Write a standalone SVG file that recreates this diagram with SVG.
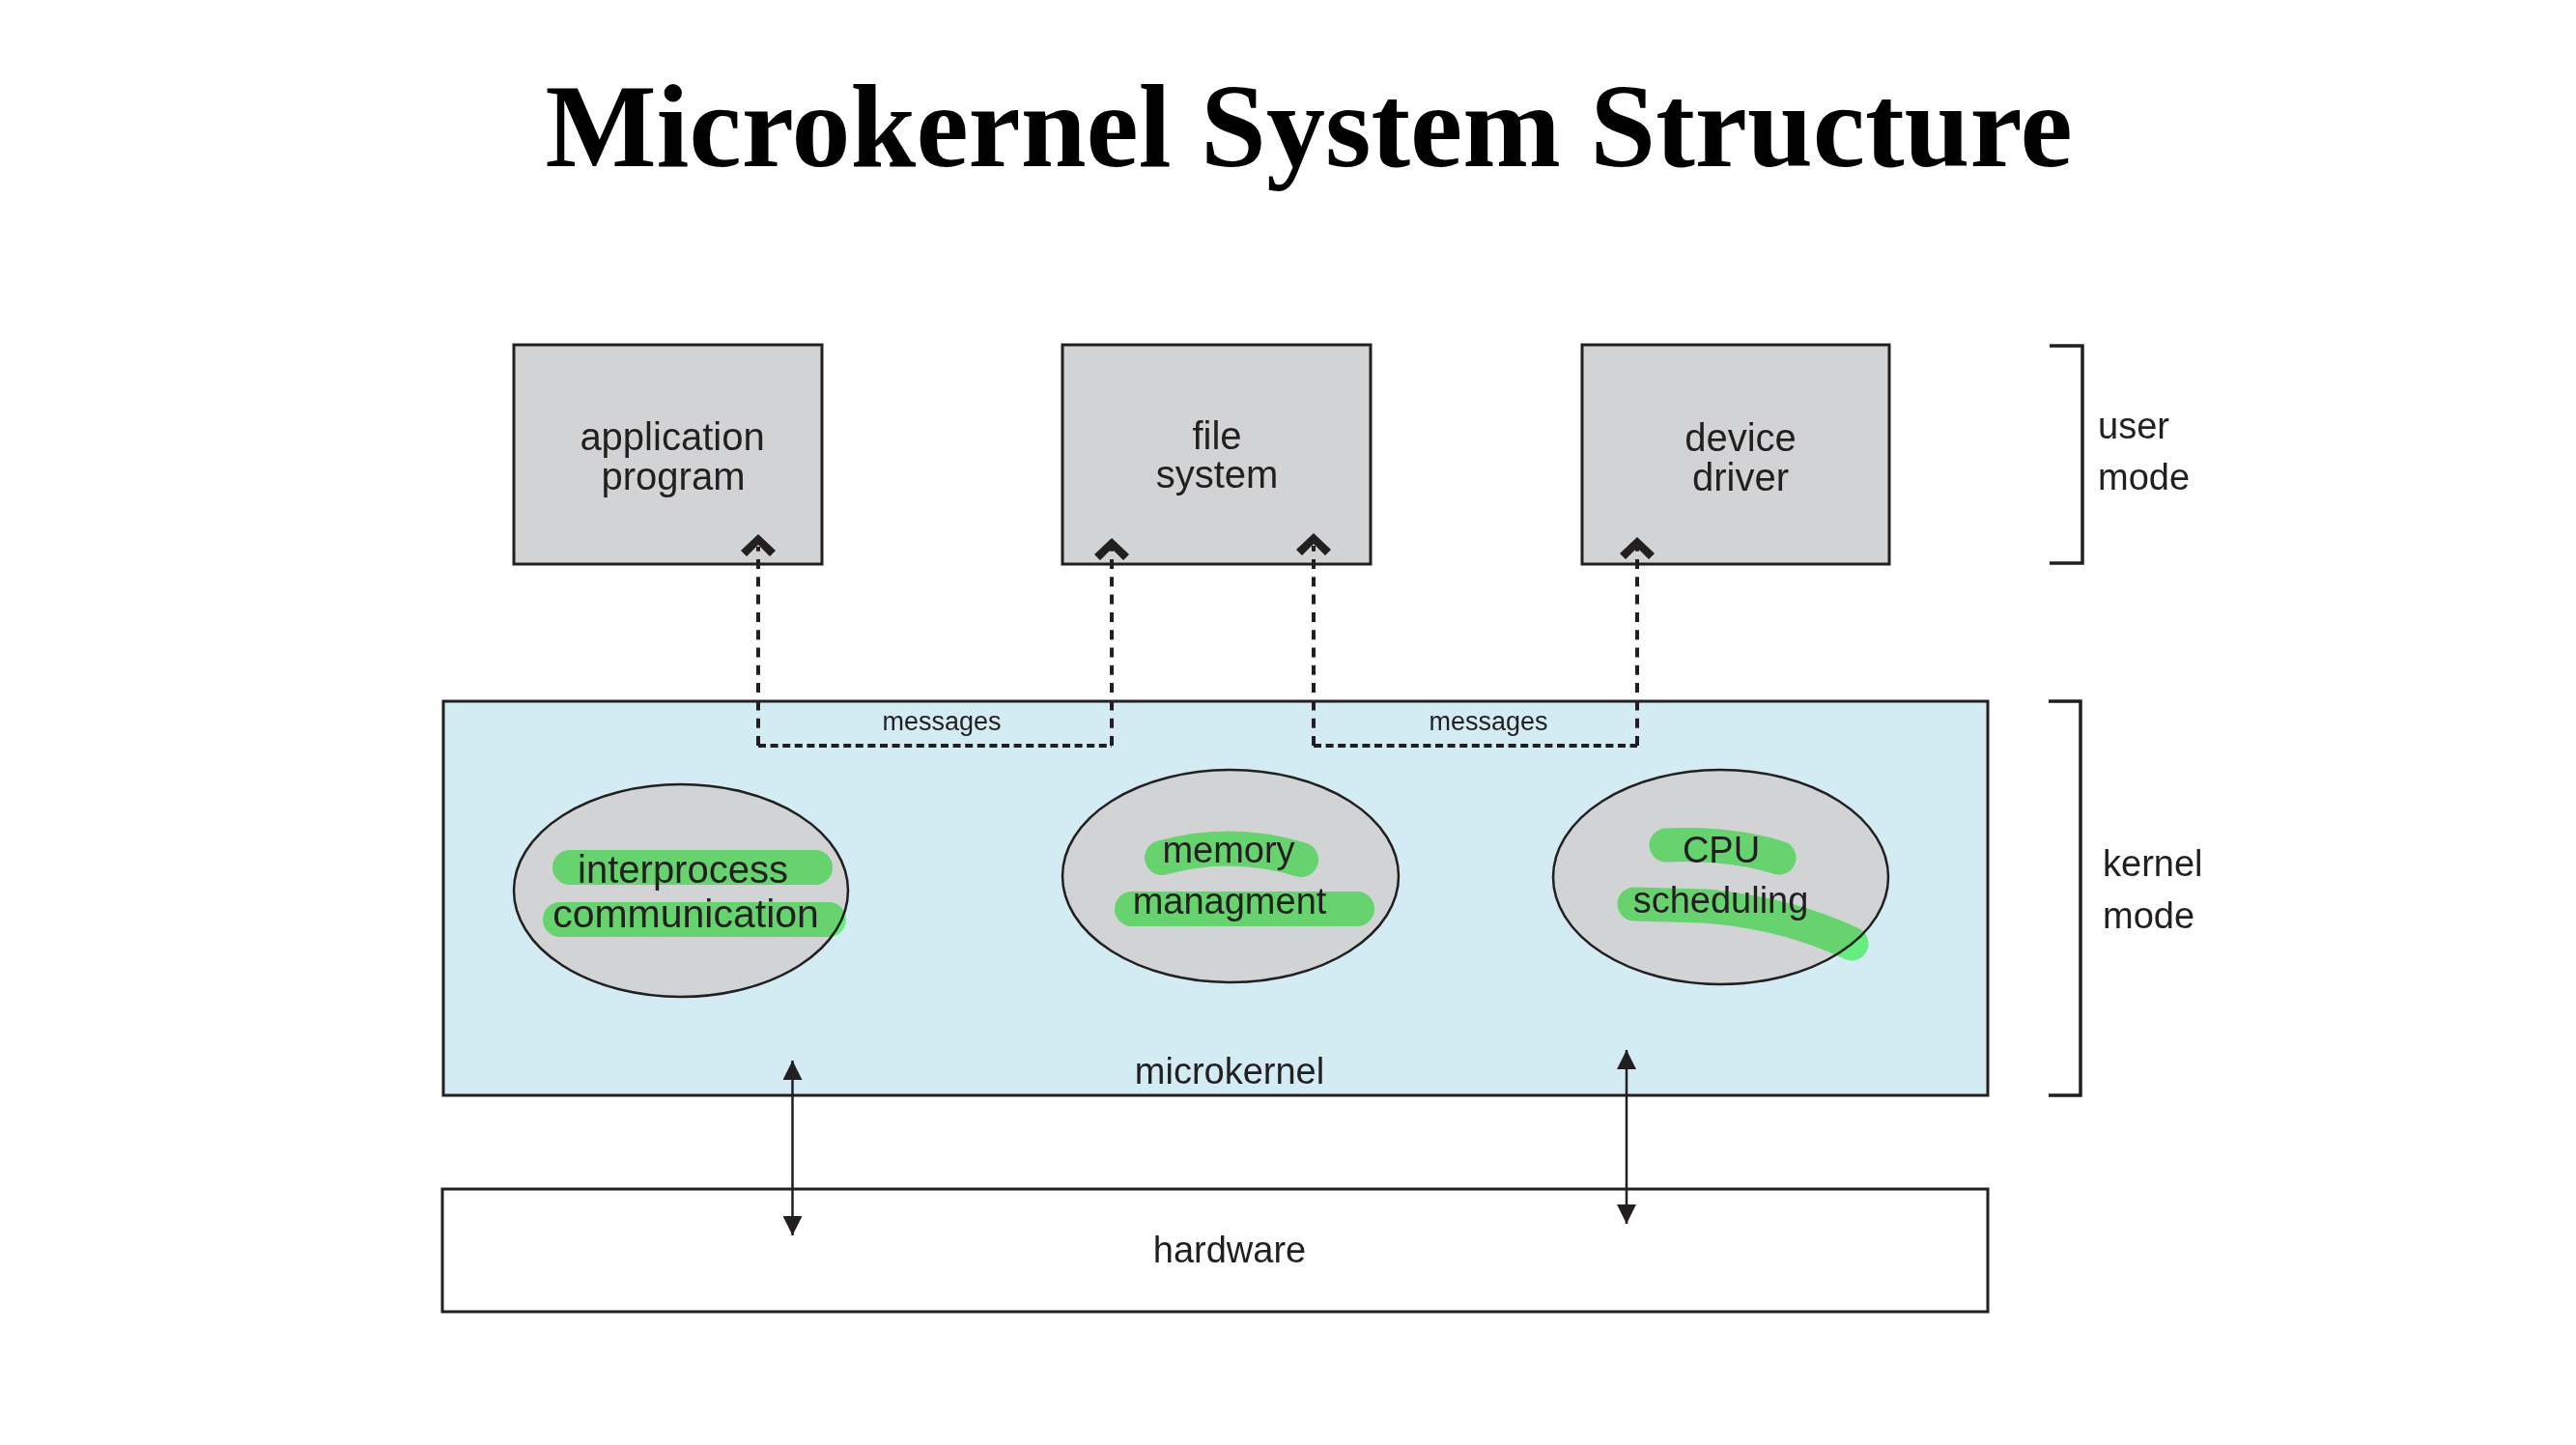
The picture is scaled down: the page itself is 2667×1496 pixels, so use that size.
<svg xmlns="http://www.w3.org/2000/svg" width="2667" height="1496" viewBox="0 0 2667 1496">
<defs>
<style>
.box{fill:#d1d3d4;stroke:#231f20;stroke-width:3}
.ell{fill:#d1d3d4;stroke:#231f20;stroke-width:2.5}
.t{font-family:"Liberation Sans",Arial,sans-serif;fill:#231f20;text-anchor:middle}
.tl{font-family:"Liberation Sans",Arial,sans-serif;fill:#231f20}
.hl{fill:none;stroke:#7cff84;stroke-width:36;stroke-linecap:round;stroke-linejoin:round;mix-blend-mode:multiply}
.dv{fill:none;stroke:#231f20;stroke-width:4;stroke-dasharray:10 8.3}
.dh{fill:none;stroke:#231f20;stroke-width:4;stroke-dasharray:8 4.6}
.br{fill:none;stroke:#231f20;stroke-width:3.5}
.ar{fill:none;stroke:#231f20;stroke-width:2.5;marker-start:url(#tri);marker-end:url(#tri)}
</style>
<marker id="tri" viewBox="0 0 20 20" refX="20" refY="10" markerWidth="20" markerHeight="20" markerUnits="userSpaceOnUse" orient="auto-start-reverse">
<path d="M0,0 L20,10 L0,20 Z" fill="#231f20"/>
</marker>
<path id="chev" d="M0,0 L18,17 L12,23 L0,11 L-12,23 L-18,17 Z" fill="#231f20"/>
</defs>
<rect width="2667" height="1496" fill="#ffffff"/>
<text x="1355" y="172" font-family="Liberation Serif,'Times New Roman',serif" font-weight="bold" font-size="122" text-anchor="middle" fill="#000">Microkernel System Structure</text>

<g id="kernel">
<rect x="459" y="726" width="1599" height="408" fill="#d3ecf3" stroke="#231f20" stroke-width="3"/>
<text class="t" x="1273" y="1122" font-size="38">microkernel</text>
</g>
<g id="hardware">
<rect x="458" y="1231" width="1600" height="127" fill="#ffffff" stroke="#231f20" stroke-width="3"/>
<text class="t" x="1273" y="1307" font-size="38">hardware</text>
</g>

<g id="app">
<rect class="box" x="532" y="357" width="319" height="227"/>
<text class="t" x="696" y="466" font-size="40">application</text>
<text class="t" x="697" y="507" font-size="40">program</text>
</g>
<g id="filesystem">
<rect class="box" x="1100" y="357" width="319" height="227"/>
<text class="t" x="1260" y="465" font-size="40">file</text>
<text class="t" x="1260" y="505" font-size="40">system</text>
</g>
<g id="device">
<rect class="box" x="1638" y="357" width="318" height="227"/>
<text class="t" x="1802" y="467" font-size="40">device</text>
<text class="t" x="1802" y="508" font-size="40">driver</text>
</g>

<g id="ipc">
<ellipse class="ell" cx="705" cy="922" rx="173" ry="110"/>
<path class="hl" d="M590 898 H844"/>
<path class="hl" d="M580 952 H858"/>
<text class="t" x="707" y="914" font-size="40">interprocess</text>
<text class="t" x="710" y="960" font-size="41">communication</text>
</g>
<g id="memory">
<ellipse class="ell" cx="1274" cy="907" rx="174" ry="110"/>
<path class="hl" d="M1203 888 Q1275 868 1347 890"/>
<path class="hl" d="M1172 941 L1405 941"/>
<text class="t" x="1272" y="893" font-size="38">memory</text>
<text class="t" x="1273" y="946" font-size="38">managment</text>
</g>
<g id="cpu">
<ellipse class="ell" cx="1781.5" cy="908" rx="173.5" ry="111"/>
<path class="hl" style="stroke-width:35" d="M1725 875 Q1790 872 1842 888"/>
<path class="hl" style="stroke-width:35" d="M1692 936 L1765 938 Q1850 945 1917 977"/>
<text class="t" x="1782" y="893" font-size="38">CPU</text>
<text class="t" x="1781.5" y="945" font-size="38">scheduling</text>
</g>

<g id="modes">
<path class="br" d="M2122 358 H2156 V583 H2122"/>
<text class="tl" x="2172" y="454" font-size="38">user</text>
<text class="tl" x="2172" y="507" font-size="38">mode</text>
<path class="br" d="M2121 726 H2154 V1134 H2121"/>
<text class="tl" x="2177" y="907" font-size="38">kernel</text>
<text class="tl" x="2177" y="961" font-size="38">mode</text>
</g>

<g id="connectors">
<line class="dv" x1="785" y1="772" x2="785" y2="566"/>
<line class="dh" x1="785" y1="772" x2="1151" y2="772"/>
<line class="dv" x1="1151" y1="772" x2="1151" y2="568"/>
<use href="#chev" x="785" y="553"/>
<use href="#chev" x="1151" y="557"/>
<text class="t" x="975" y="756" font-size="27">messages</text>
<line class="dv" x1="1360" y1="772" x2="1360" y2="565"/>
<line class="dh" x1="1360" y1="772" x2="1695" y2="772"/>
<line class="dv" x1="1695" y1="772" x2="1695" y2="567"/>
<use href="#chev" x="1360" y="552"/>
<use href="#chev" x="1695" y="556"/>
<text class="t" x="1541" y="756" font-size="27">messages</text>
<line class="ar" x1="820.5" y1="1098" x2="820.5" y2="1279"/>
<line class="ar" x1="1684" y1="1087" x2="1684" y2="1267"/>
</g>
</svg>
